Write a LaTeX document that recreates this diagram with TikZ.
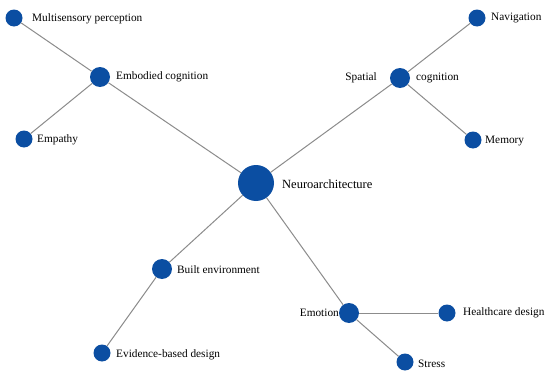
\documentclass[tikz,border=0pt]{standalone}
\usepackage{fontspec}
\setmainfont{Liberation Serif}
\newfontfamily\labelfont{Liberation Serif}
\usepackage{tikz}
\usetikzlibrary{positioning}

\definecolor{nodeblue}{HTML}{0B4EA2}
\definecolor{linegray}{HTML}{8C8C8C}

\begin{document}
\begin{tikzpicture}[x=1pt, y=-1pt,
  hub/.style={circle, fill=nodeblue, minimum size=36pt, inner sep=0pt},
  topic/.style={circle, fill=nodeblue, minimum size=20pt, inner sep=0pt},
  leaf/.style={circle, fill=nodeblue, minimum size=17pt, inner sep=0pt},
  txt/.style={font=\labelfont\fontsize{11.3}{13}\selectfont, inner sep=0pt, text=black},
  link/.style={draw=linegray, line width=1pt},
]
\useasboundingbox[fill=white] (0,0) rectangle (550,380);

% circles
\node[hub] (neuro) at (256,183) {};
\node[topic] (embodied) at (100,77) {};
\node[topic] (spatial) at (400,78) {};
\node[topic] (built) at (162,269) {};
\node[topic] (emotion) at (349,313) {};
\node[leaf] (multi) at (14,18) {};
\node[leaf] (empathy) at (24,139) {};
\node[leaf] (navig) at (477,18) {};
\node[leaf] (memory) at (473,140) {};
\node[leaf] (evidence) at (102,353) {};
\node[leaf] (health) at (447,313) {};
\node[leaf] (stress) at (405,362) {};

% links
\draw[link] (neuro) -- (embodied);
\draw[link] (neuro) -- (spatial);
\draw[link] (neuro) -- (built);
\draw[link] (neuro) -- (emotion);
\draw[link] (embodied) -- (multi);
\draw[link] (embodied) -- (empathy);
\draw[link] (spatial) -- (navig);
\draw[link] (spatial) -- (memory);
\draw[link] (built) -- (evidence);
\draw[link] (emotion) -- (health);
\draw[link] (emotion) -- (stress);

% labels
\node[txt, anchor=west, font=\labelfont\fontsize{12.5}{14}\selectfont] (neurotxt) at (282,184) {Neuroarchitecture};
\node[txt, anchor=west] (embodiedtxt) at (116,77) {Embodied cognition};
\node[txt, anchor=east] (spatialtxt) at (377,78) {Spatial};
\node[txt, anchor=west] (cogtxt) at (416,78) {cognition};
\node[txt, anchor=west] (builttxt) at (177,270) {Built environment};
\node[txt, anchor=east] (emotiontxt) at (339,313) {Emotion};
\node[txt, anchor=west] (multitxt) at (32,19) {Multisensory perception};
\node[txt, anchor=west] (empathytxt) at (37,140) {Empathy};
\node[txt, anchor=west] (navigtxt) at (491,18) {Navigation};
\node[txt, anchor=west] (memorytxt) at (485,141) {Memory};
\node[txt, anchor=west] (evidencetxt) at (116,355) {Evidence-based design};
\node[txt, anchor=west] (healthtxt) at (463,313) {Healthcare design};
\node[txt, anchor=west] (stresstxt) at (418,364) {Stress};
\end{tikzpicture}
\end{document}
